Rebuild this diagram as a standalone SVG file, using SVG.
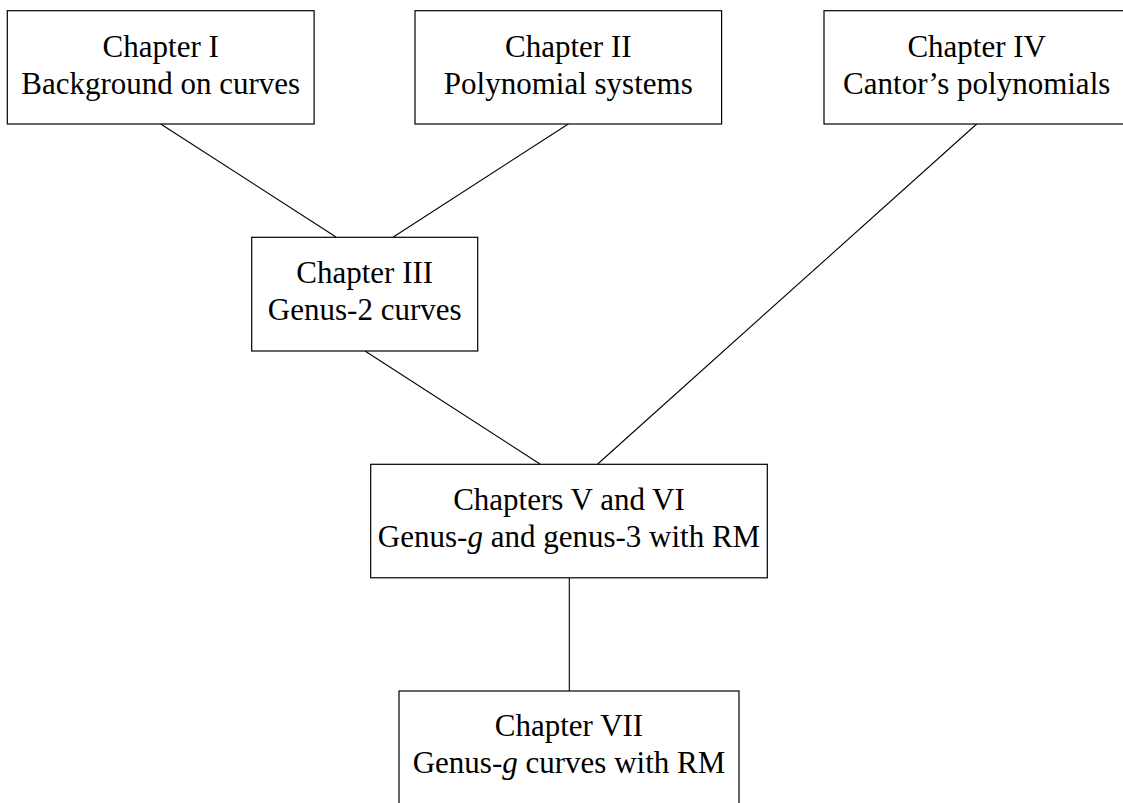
<svg xmlns="http://www.w3.org/2000/svg" width="1123" height="803" viewBox="0 0 1123 803">
<style>
.box{fill:#fff;stroke:#000;stroke-width:1.2}
.t{font-family:"Liberation Serif","DejaVu Serif",serif;font-size:31px;fill:#000;text-anchor:middle}
.e{stroke:#000;stroke-width:1.1;fill:none}
</style>
<rect width="1123" height="803" fill="#fff"/>
<g id="connectors">
<line class="e" x1="160.7" y1="124" x2="336" y2="237"/>
<line class="e" x1="568.3" y1="124" x2="393.3" y2="237"/>
<line class="e" x1="365" y1="351" x2="540" y2="464"/>
<line class="e" x1="976.7" y1="124" x2="597.7" y2="464"/>
<line class="e" x1="569.3" y1="578" x2="569.3" y2="691"/>
</g>
<g id="ch1">
<rect class="box" x="7.3" y="10.7" width="306.8" height="113.3"/>
<text class="t" font-family="Liberation Serif, serif" x="160.7" y="56.5">Chapter I</text>
<text class="t" font-family="Liberation Serif, serif" x="160.7" y="93.5">Background on curves</text>
</g>
<g id="ch2">
<rect class="box" x="415" y="10.7" width="306.6" height="113.3"/>
<text class="t" font-family="Liberation Serif, serif" x="568.3" y="56.5">Chapter II</text>
<text class="t" font-family="Liberation Serif, serif" x="568.3" y="93.5">Polynomial systems</text>
</g>
<g id="ch4">
<rect class="box" x="824" y="10.7" width="305.4" height="113.3"/>
<text class="t" font-family="Liberation Serif, serif" x="976.7" y="56.5">Chapter IV</text>
<text class="t" font-family="Liberation Serif, serif" x="976.7" y="93.5">Cantor’s polynomials</text>
</g>
<g id="ch3">
<rect class="box" x="251.7" y="237.3" width="226" height="113.7"/>
<text class="t" font-family="Liberation Serif, serif" x="364.7" y="283">Chapter III</text>
<text class="t" font-family="Liberation Serif, serif" x="364.7" y="320">Genus-2 curves</text>
</g>
<g id="ch56">
<rect class="box" x="370.7" y="464.3" width="396.6" height="113.5"/>
<text class="t" font-family="Liberation Serif, serif" x="569" y="510">Chapters V and VI</text>
<text class="t" font-family="Liberation Serif, serif" x="569" y="547">Genus-<tspan font-style="italic">g</tspan> and genus-3 with RM</text>
</g>
<g id="ch7">
<rect class="box" x="399" y="691" width="340" height="113.5"/>
<text class="t" font-family="Liberation Serif, serif" x="569" y="735.5">Chapter VII</text>
<text class="t" font-family="Liberation Serif, serif" x="569" y="772.5">Genus-<tspan font-style="italic">g</tspan> curves with RM</text>
</g>
</svg>
